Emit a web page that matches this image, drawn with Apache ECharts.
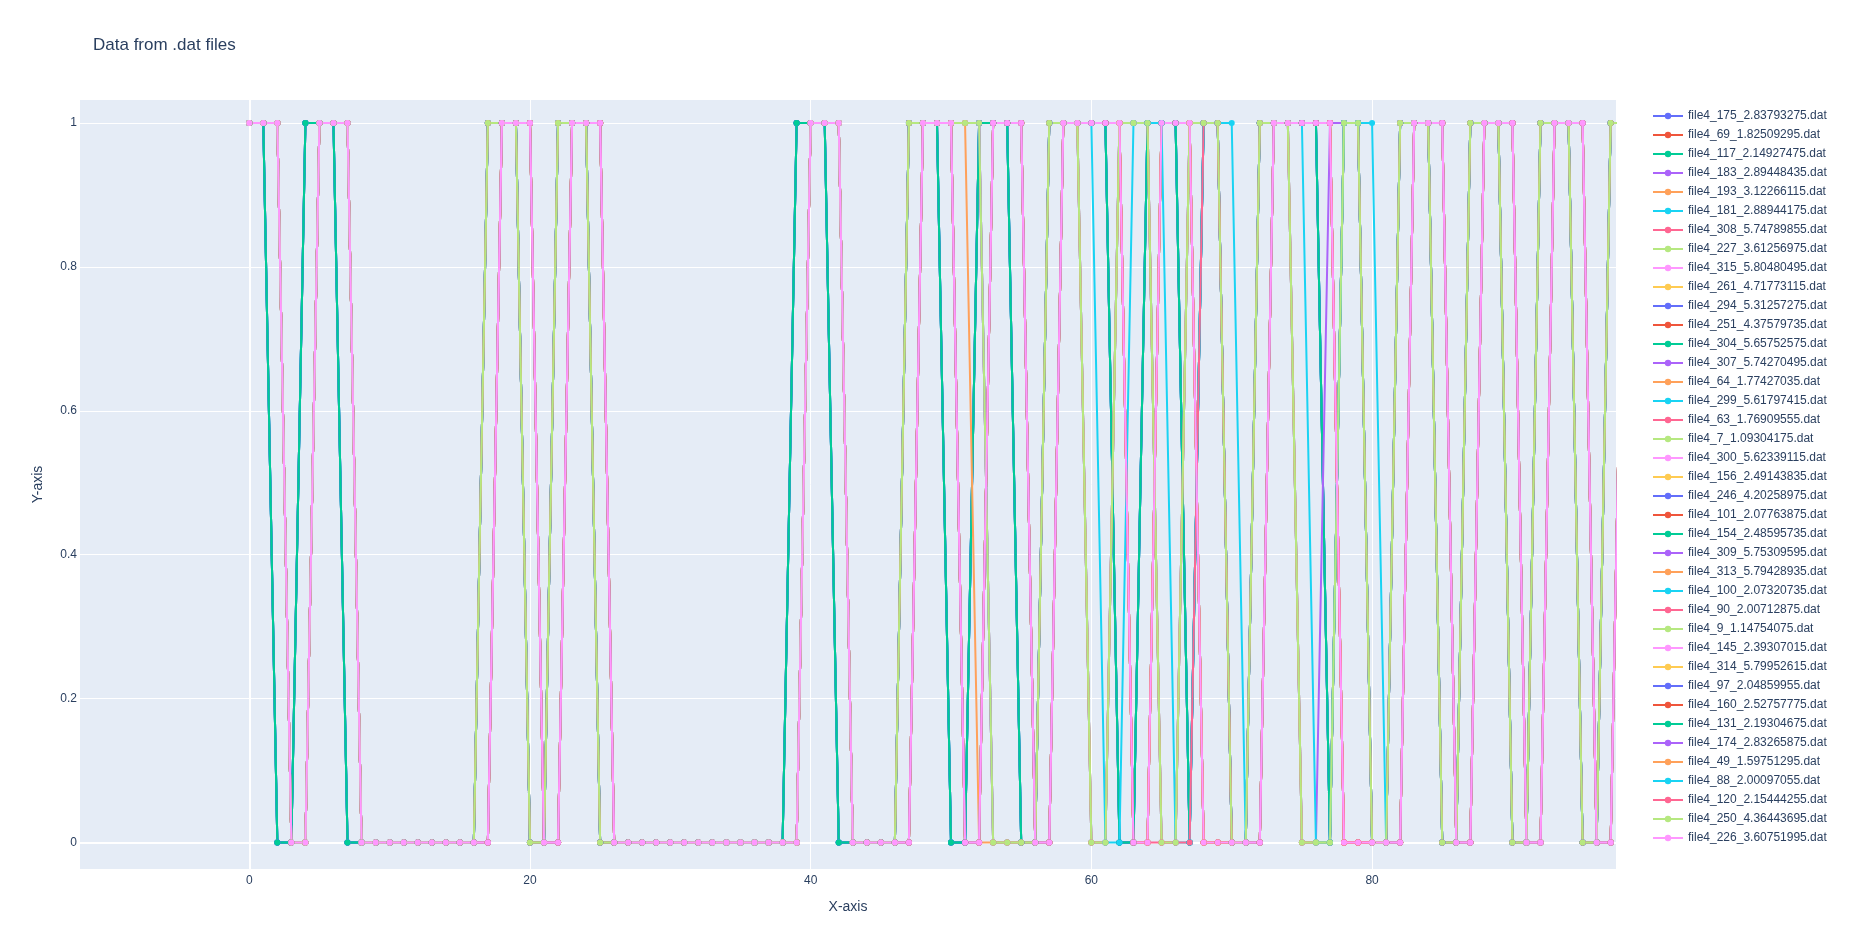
<!DOCTYPE html>
<html>
<head>
<meta charset="utf-8">
<title>Data from .dat files</title>
<script src="https://cdn.jsdelivr.net/npm/echarts@6/dist/echarts.min.js"></script>
<style>
  html, body { margin: 0; padding: 0; background: #fff; }
  #chart { width: 1849px; height: 949px; }
</style>
</head>
<body>
<div id="chart"></div>
<script>
// trace names in legend order
var seriesNames = [
  "file4_175_2.83793275.dat", "file4_69_1.82509295.dat", "file4_117_2.14927475.dat",
  "file4_183_2.89448435.dat", "file4_193_3.12266115.dat", "file4_181_2.88944175.dat",
  "file4_308_5.74789855.dat", "file4_227_3.61256975.dat", "file4_315_5.80480495.dat",
  "file4_261_4.71773115.dat", "file4_294_5.31257275.dat", "file4_251_4.37579735.dat",
  "file4_304_5.65752575.dat", "file4_307_5.74270495.dat", "file4_64_1.77427035.dat",
  "file4_299_5.61797415.dat", "file4_63_1.76909555.dat", "file4_7_1.09304175.dat",
  "file4_300_5.62339115.dat", "file4_156_2.49143835.dat", "file4_246_4.20258975.dat",
  "file4_101_2.07763875.dat", "file4_154_2.48595735.dat", "file4_309_5.75309595.dat",
  "file4_313_5.79428935.dat", "file4_100_2.07320735.dat", "file4_90_2.00712875.dat",
  "file4_9_1.14754075.dat", "file4_145_2.39307015.dat", "file4_314_5.79952615.dat",
  "file4_97_2.04859955.dat", "file4_160_2.52757775.dat", "file4_131_2.19304675.dat",
  "file4_174_2.83265875.dat", "file4_49_1.59751295.dat", "file4_88_2.00097055.dat",
  "file4_120_2.15444255.dat", "file4_250_4.36443695.dat", "file4_226_3.60751995.dat"
];

// plotly default colour cycle
var palette = ["#636efa", "#EF553B", "#00cc96", "#ab63fa", "#FFA15A",
               "#19d3f3", "#FF6692", "#B6E880", "#FF97FF", "#FECB52"];

// 0/1 states, x = 0 .. 99
var statesPink = [
  1,1,1,0,0,1,1,1,0,0,  0,0,0,0,0,0,0,0,1,1,  1,0,0,1,1,1,0,0,0,0,  0,0,0,0,0,0,0,0,0,0,
  1,1,1,0,0,0,0,0,1,1,  1,0,0,1,1,1,0,0,1,1,  1,1,1,0,0,1,1,1,0,0,  0,0,0,1,1,1,1,1,0,0,
  0,0,0,1,1,1,0,0,1,1,  1,0,0,1,1,1,0,0,1,1
];
var statesGreen = [
  1,1,1,0,0,1,1,1,0,0,  0,0,0,0,0,0,0,1,1,1,  0,0,1,1,1,0,0,0,0,0,  0,0,0,0,0,0,0,0,0,0,
  1,1,1,0,0,0,0,1,1,1,  1,1,1,0,0,0,0,1,1,1,  0,0,1,1,1,0,0,1,1,1,  0,0,1,1,1,0,0,0,1,1,
  0,0,1,1,1,0,0,1,1,1,  0,0,1,1,1,0,0,1,1,1
];
var statesTeal = [
  1,1,0,0,1,1,1,0,0,0,  0,0,0,0,0,0,0,1,1,1,  0,0,1,1,1,0,0,0,0,0,  0,0,0,0,0,0,0,0,0,1,
  1,1,0,0,0,0,0,1,1,1,  0,0,1,1,1,0,0,1,1,1,  1,1,0,0,1,1,1,0,1,1,  0,0,1,1,1,1,1,0,1,1,
  0,0,1,1,1,0,0,1,1,1,  0,0,1,1,1,0,0,1,1,1
];
var statesCyan = [
  1,1,1,0,0,1,1,1,0,0,  0,0,0,0,0,0,0,0,1,1,  1,0,0,1,1,1,0,0,0,0,  0,0,0,0,0,0,0,0,0,0,
  1,1,1,0,0,0,0,0,1,1,  1,0,0,1,1,1,0,0,1,1,  1,0,0,1,1,1,0,0,1,1,  1,0,0,1,1,1,0,0,1,1,
  1,0,0,1,1,1,0,0,1,1,  1,0,0,1,1,1,0,0,1,1
];
var statesRed = [
  1,1,1,0,0,1,1,1,0,0,  0,0,0,0,0,0,0,0,1,1,  1,0,0,1,1,1,0,0,0,0,  0,0,0,0,0,0,0,0,0,0,
  1,1,1,0,0,0,0,0,1,1,  1,0,0,1,1,1,0,0,1,1,  1,1,1,0,0,0,0,0,1,1,  0,0,0,1,1,1,1,1,0,0,
  0,0,0,1,1,1,0,0,1,1,  1,0,0,1,1,1,0,0,1,1
];
var statesOrange = [
  1,1,1,0,0,1,1,1,0,0,  0,0,0,0,0,0,0,1,1,1,  0,0,1,1,1,0,0,0,0,0,  0,0,0,0,0,0,0,0,0,0,
  1,1,1,0,0,0,0,1,1,1,  1,1,0,0,0,0,0,1,1,1,  0,0,1,1,1,0,0,1,1,1,  0,0,1,1,1,0,0,0,1,1,
  0,0,1,1,1,0,0,1,1,1,  0,0,1,1,1,0,0,1,1,1
];
var statesPurple = [
  1,1,1,0,0,1,1,1,0,0,  0,0,0,0,0,0,0,1,1,1,  0,0,1,1,1,0,0,0,0,0,  0,0,0,0,0,0,0,0,0,0,
  1,1,1,0,0,0,0,1,1,1,  1,1,1,0,0,0,0,1,1,1,  0,0,1,1,1,0,0,1,1,1,  0,0,1,1,1,0,0,1,1,1,
  0,0,1,1,1,0,0,1,1,1,  0,0,1,1,1,0,0,1,1,1
];

// which state list each trace follows (same order as seriesNames)
var seriesStates = [
  statesTeal, statesPink, statesTeal, statesGreen, statesPink, statesPink,
  statesPink, statesGreen, statesPink, statesPink, statesTeal, statesPink,
  statesTeal, statesGreen, statesPink, statesPink, statesPink, statesGreen,
  statesPink, statesPink, statesTeal, statesPink, statesTeal, statesGreen,
  statesPink, statesPink, statesPink, statesGreen, statesPink, statesPink,
  statesTeal, statesPink, statesTeal, statesPurple, statesOrange, statesCyan,
  statesRed, statesGreen, statesPink
];

var textColor = "#2a3f5f";
var fontFamily = '"Liberation Sans", Arial, sans-serif';

var series = seriesNames.map(function (name, i) {
  var color = palette[i % palette.length];
  return {
    name: name,
    type: "line",
    data: seriesStates[i].map(function (v, x) { return [x, v]; }),
    symbol: "circle",
    symbolSize: 6,
    showAllSymbol: true,
    lineStyle: { width: 2, color: color },
    itemStyle: { color: color, borderWidth: 0 },
    emphasis: { disabled: true },
    clip: true
  };
});

var option = {
  animation: false,
  backgroundColor: "#fff",
  title: {
    text: "Data from .dat files",
    left: 93,
    top: 37,
    padding: 0,
    textStyle: { fontSize: 17, fontWeight: "normal", color: textColor, fontFamily: fontFamily }
  },
  legend: {
    orient: "vertical",
    left: 1652,
    top: 109,
    padding: 0,
    itemWidth: 30,
    itemHeight: 8,
    itemGap: 5,
    textStyle: { fontSize: 12, lineHeight: 14, color: textColor, fontFamily: fontFamily },
    data: seriesNames
  },
  grid: {
    left: 80, right: 233, top: 100, bottom: 80,
    outerBoundsMode: "none",
    show: true,
    backgroundColor: "#E5ECF6",
    borderWidth: 0
  },
  xAxis: [
    {
      type: "value",
      min: -12.06,
      max: 97.38,
      splitNumber: 5,
      name: "X-axis",
      nameLocation: "middle",
      nameGap: 31,
      nameTextStyle: { fontSize: 14, color: textColor, fontFamily: fontFamily },
      axisLine: { show: false, onZero: false },
      axisTick: { show: false },
      axisLabel: { margin: 6, fontSize: 12, color: textColor, fontFamily: fontFamily,
                   showMinLabel: false, showMaxLabel: false },
      splitLine: { show: true, showMinLine: false, showMaxLine: false,
                   lineStyle: { color: "#fff", width: 1 } }
    },
    {
      // zero line
      type: "value",
      min: -12.06,
      max: 97.38,
      position: "top",
      axisLine: { show: true, onZero: true, onZeroAxisIndex: 0, lineStyle: { color: "#fff", width: 2 } },
      axisTick: { show: false },
      axisLabel: { show: false },
      splitLine: { show: false }
    }
  ],
  yAxis: [
    {
      type: "value",
      min: -0.037,
      max: 1.032,
      splitNumber: 5,
      name: "Y-axis",
      nameLocation: "middle",
      nameGap: 35,
      nameTextStyle: { fontSize: 14, color: textColor, fontFamily: fontFamily },
      axisLine: { show: false, onZero: false },
      axisTick: { show: false },
      axisLabel: { margin: 3, fontSize: 12, color: textColor, fontFamily: fontFamily,
                   showMinLabel: false, showMaxLabel: false },
      splitLine: { show: true, showMinLine: false, showMaxLine: false,
                   lineStyle: { color: "#fff", width: 1 } }
    },
    {
      type: "value",
      min: -0.037,
      max: 1.032,
      position: "right",
      axisLine: { show: true, onZero: true, onZeroAxisIndex: 0, lineStyle: { color: "#fff", width: 2 } },
      axisTick: { show: false },
      axisLabel: { show: false },
      splitLine: { show: false }
    }
  ],
  series: series
};

var myChart = echarts.init(document.getElementById("chart"));
myChart.setOption(option);
window.addEventListener("resize", function () {
  myChart.resize();
});
</script>
</body>
</html>
